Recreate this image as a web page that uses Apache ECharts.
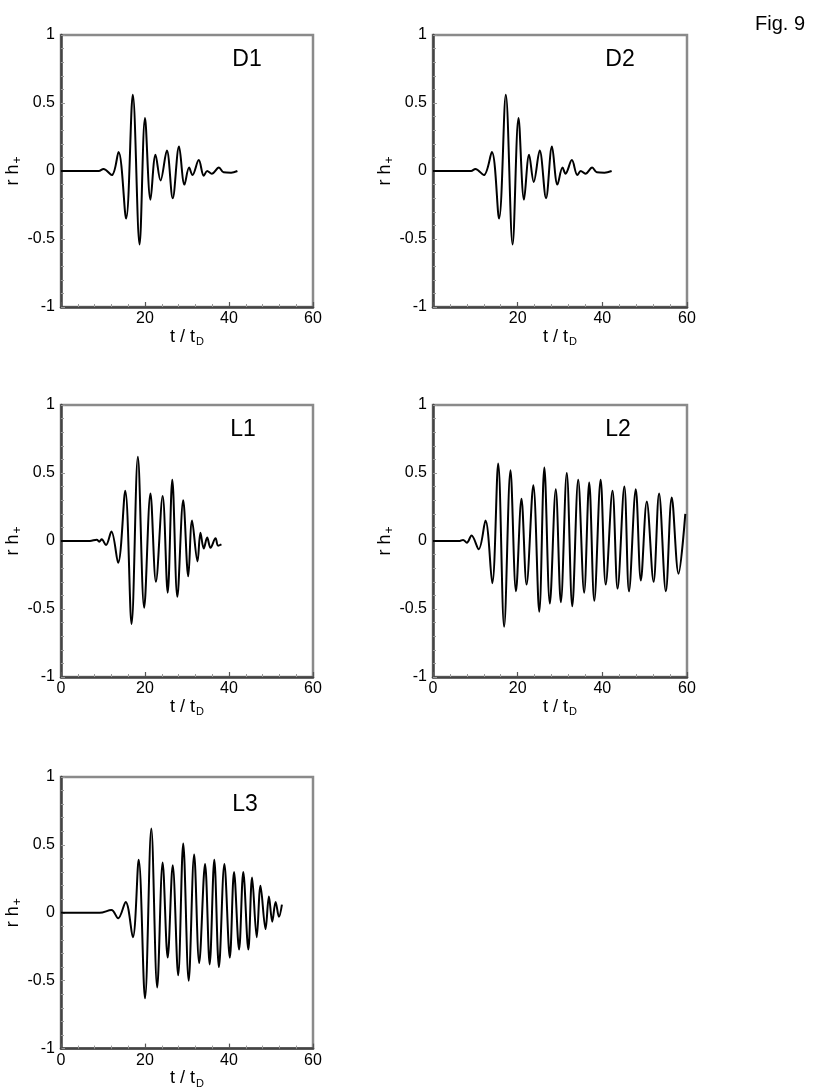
<!DOCTYPE html>
<html>
<head>
<meta charset="utf-8">
<script src="https://cdn.jsdelivr.net/npm/echarts@6/dist/echarts.min.js"></script>
<style>
  html, body { margin: 0; padding: 0; background: #fff; }
  #chart { width: 814px; height: 1090px; }
</style>
</head>
<body>
<div id="chart"></div>
<script>
// waveform extrema: time t/tD and r h+
const d1T = [0, 1, 9, 10.1, 12.1, 13.7, 15.5, 17.1, 18.7, 20.0, 21.3, 22.5, 23.7, 25.2, 26.6, 28.1, 29.4, 30.5, 31.3, 32.8, 34.0, 34.8, 35.9, 37.6, 38.7, 40.5, 42.0]
const d1H = [0, 0, 0, 0.015, -0.03, 0.14, -0.35, 0.56, -0.54, 0.39, -0.21, 0.12, -0.07, 0.15, -0.2, 0.18, -0.1, 0.025, -0.03, 0.08, -0.035, 0, -0.02, 0.025, -0.01, -0.012, 0]

const d2T = [0, 1, 9, 10.0, 12.0, 13.9, 15.6, 17.2, 18.8, 20.2, 21.5, 22.7, 23.8, 25.2, 26.7, 28.1, 29.4, 30.6, 31.3, 32.8, 34.1, 34.9, 36.0, 37.6, 38.7, 40.5, 42.2]
const d2H = [0, 0, 0, 0.015, -0.03, 0.14, -0.35, 0.56, -0.54, 0.39, -0.21, 0.12, -0.08, 0.15, -0.2, 0.18, -0.1, 0.025, -0.02, 0.08, -0.03, 0, -0.02, 0.025, -0.01, -0.012, 0]

const l1T = [0, 6.9, 8.5, 9.1, 9.7, 10.7, 12.0, 13.6, 15.3, 16.8, 18.3, 19.8, 21.3, 22.6, 24.2, 25.4, 26.5, 27.7, 29.1, 30.3, 31.2, 32.5, 33.2, 34.0, 34.8, 35.6, 36.8, 37.4, 38.2]
const l1H = [0, 0, 0.01, -0.005, 0.012, -0.03, 0.07, -0.16, 0.37, -0.61, 0.62, -0.49, 0.35, -0.3, 0.33, -0.38, 0.45, -0.41, 0.3, -0.26, 0.15, -0.15, 0.06, -0.055, 0.025, -0.05, 0.02, -0.035, -0.025]

const l2T = [0, 6.3, 7.1, 8.0, 9.1, 10.8, 12.4, 14.0, 15.4, 16.8, 18.3, 19.6, 20.9, 22.1, 23.7, 25.1, 26.3, 27.6, 29.0, 30.2, 31.6, 32.9, 34.3, 35.7, 36.9, 38.1, 39.6, 40.8, 42.4, 43.6, 45.2, 46.3, 47.9, 49.1, 50.5, 52.1, 53.4, 55.0, 56.4, 58.0, 59.6]
const l2H = [0, 0, 0.008, -0.012, 0.04, -0.06, 0.15, -0.31, 0.57, -0.63, 0.52, -0.37, 0.31, -0.32, 0.41, -0.52, 0.54, -0.46, 0.38, -0.45, 0.5, -0.48, 0.45, -0.38, 0.43, -0.44, 0.45, -0.32, 0.37, -0.35, 0.4, -0.37, 0.38, -0.29, 0.29, -0.3, 0.35, -0.37, 0.32, -0.24, 0.2]

const l3T = [0, 9.2, 12.0, 13.6, 15.4, 17.1, 18.5, 20.0, 21.5, 22.9, 24.2, 25.4, 26.6, 27.9, 29.1, 30.4, 31.7, 32.9, 34.3, 35.4, 36.5, 37.6, 38.9, 40.2, 41.2, 42.4, 43.4, 44.6, 45.5, 46.6, 47.5, 48.7, 49.5, 50.3, 51.1, 51.9, 52.6]
const l3H = [0, 0, 0.02, -0.04, 0.08, -0.18, 0.39, -0.63, 0.62, -0.55, 0.37, -0.33, 0.35, -0.46, 0.51, -0.5, 0.43, -0.37, 0.36, -0.38, 0.39, -0.4, 0.36, -0.33, 0.3, -0.27, 0.3, -0.27, 0.26, -0.18, 0.2, -0.12, 0.12, -0.065, 0.08, -0.03, 0.06]

const xTicks = [0, 20, 40, 60]
const yTicks = [-1, -0.5, 0, 0.5, 1]
const panelNames = ['D1', 'D2', 'L1', 'L2', 'L3']

const panels = [
  { t: d1T, h: d1H, box: [61, 35, 252, 272], label: [247, 60], showZero: false },
  { t: d2T, h: d2H, box: [433, 35, 254, 272], label: [620, 60], showZero: false },
  { t: l1T, h: l1H, box: [61, 405, 252, 272], label: [243, 430], showZero: true },
  { t: l2T, h: l2H, box: [433, 405, 254, 272], label: [618, 430], showZero: true },
  { t: l3T, h: l3H, box: [61, 777, 252, 272], label: [245, 805], showZero: true }
]

const font = 'Liberation Sans, Arial, sans-serif'
const tickColor = '#999'

const chart = echarts.init(document.getElementById('chart'), null, { renderer: 'canvas' })

const grid = []
const xAxis = []
const yAxis = []
const series = []
const graphic = []

panels.forEach((p, i) => {
  grid.push({
    left: p.box[0],
    top: p.box[1],
    width: p.box[2],
    height: p.box[3],
    show: true,
    borderColor: '#8a8a8a',
    borderWidth: 2.5,
    containLabel: false
  })
  xAxis.push({
    gridIndex: i,
    type: 'value',
    min: xTicks[0],
    max: xTicks[xTicks.length - 1],
    interval: xTicks[1] - xTicks[0],
    name: '{a|t / t}{s|D}',
    nameLocation: 'middle',
    nameGap: 15,
    nameTextStyle: {
      rich: {
        a: { fontFamily: font, fontSize: 18, color: '#000' },
        s: { fontFamily: font, fontSize: 11, color: '#000', padding: [10, 0, 0, 1] }
      }
    },
    axisLine: { show: true, onZero: false, lineStyle: { color: '#444', width: 2.5 } },
    axisTick: { show: true, inside: true, length: 5, lineStyle: { color: '#555', width: 1.2 } },
    minorTick: { show: true, splitNumber: 5, length: 3, lineStyle: { color: tickColor } },
    splitLine: { show: false },
    axisLabel: {
      margin: 4,
      fontFamily: font,
      fontSize: 16,
      color: '#000',
      formatter: v => (v === 0 && !p.showZero) ? '' : String(v)
    }
  })
  yAxis.push({
    gridIndex: i,
    type: 'value',
    min: yTicks[0],
    max: yTicks[yTicks.length - 1],
    interval: yTicks[1] - yTicks[0],
    name: '{a|r h}{s|+}',
    nameLocation: 'middle',
    nameGap: 36,
    nameRotate: 90,
    nameTextStyle: {
      rich: {
        a: { fontFamily: font, fontSize: 18, color: '#000' },
        s: { fontFamily: font, fontSize: 12, color: '#000', padding: [8, 0, 0, 1] }
      }
    },
    axisLine: { show: true, onZero: false, lineStyle: { color: '#444', width: 2.5 } },
    axisTick: { show: true, inside: true, length: 4, lineStyle: { color: tickColor } },
    minorTick: { show: true, splitNumber: 5, length: 3, lineStyle: { color: tickColor } },
    splitLine: { show: false },
    axisLabel: { margin: 6, fontFamily: font, fontSize: 16, color: '#000' }
  })
  series.push({
    type: 'line',
    xAxisIndex: i,
    yAxisIndex: i,
    data: p.t.map((t, k) => [t, p.h[k]]),
    smooth: 0.35,
    showSymbol: false,
    lineStyle: { color: '#000', width: 2 },
    animation: false
  })
  graphic.push({
    type: 'text',
    x: p.label[0],
    y: p.label[1],
    style: {
      text: panelNames[i],
      font: '23px ' + font,
      fill: '#000',
      align: 'center',
      verticalAlign: 'middle'
    }
  })
})

graphic.push({
  type: 'text',
  x: 780,
  y: 24,
  style: { text: 'Fig. 9', font: '20px ' + font, fill: '#000', align: 'center', verticalAlign: 'middle' }
})

chart.setOption({
  animation: false,
  grid,
  xAxis,
  yAxis,
  series,
  graphic
})
</script>
</body>
</html>
